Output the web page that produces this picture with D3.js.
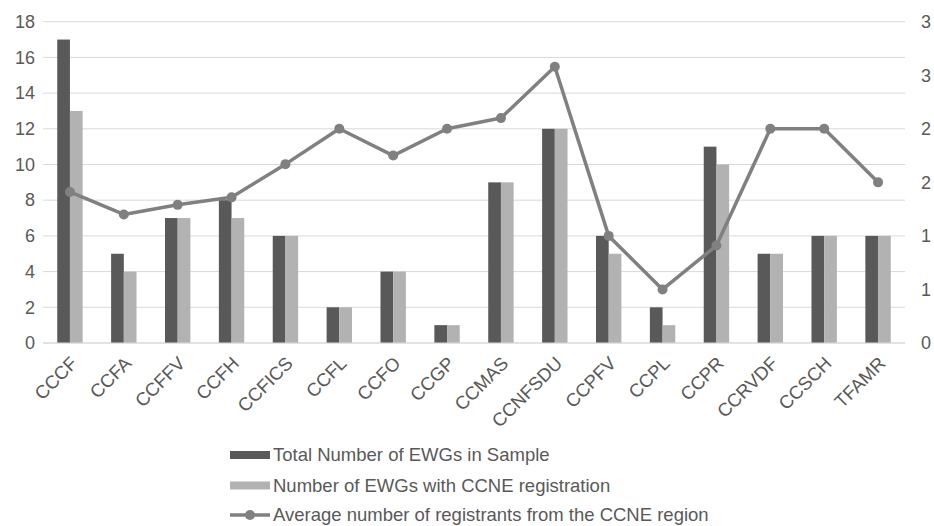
<!DOCTYPE html>
<html><head><meta charset="utf-8">
<script src="https://cdn.jsdelivr.net/npm/d3@7"></script>
<style>body{margin:0;background:#fff;} text{font-family:"Liberation Sans",Arial,sans-serif;fill:#595959;}</style>
</head><body>
<svg id="c" width="934" height="526"></svg>
<script>
const categories = ["CCCF","CCFA","CCFFV","CCFH","CCFICS","CCFL","CCFO","CCGP","CCMAS","CCNFSDU","CCPFV","CCPL","CCPR","CCRVDF","CCSCH","TFAMR"];
const totalEWGs = [17,5,7,8,6,2,4,1,9,12,6,2,11,5,6,6];
const ccneEWGs = [13,4,7,7,6,2,4,1,9,12,5,1,10,5,6,6];
const avgRegistrants = [1.41,1.2,1.29,1.36,1.67,2,1.75,2,2.1,2.58,1,0.5,0.91,2,2,1.5];
const leftTicks = [0,2,4,6,8,10,12,14,16,18];
const rightTicks = [0,0.5,1,1.5,2,2.5,3];
const rightTickLabels = ["0","1","1","2","2","3","3"];
const seriesNames = ["Total Number of EWGs in Sample","Number of EWGs with CCNE registration","Average number of registrants from the CCNE region"];

const svg = d3.select("#c");
const L = 43, R = 905, T = 21.7, B = 343;
const x = d3.scaleBand().domain(categories).range([L, R]);
const yL = d3.scaleLinear().domain([0,18]).range([B, T]);
const yR = d3.scaleLinear().domain([0,3]).range([B, T]);
const cDark = "#595959", cLight = "#b2b2b2", cLine = "#808080";

// gridlines
svg.append("g").selectAll("line").data(leftTicks).join("line")
  .attr("x1", L).attr("x2", R).attr("y1", d => yL(d)).attr("y2", d => yL(d))
  .attr("stroke", "#d9d9d9").attr("stroke-width", 1);

// left axis
const axL = svg.append("g").attr("transform", `translate(${L},0)`)
  .call(d3.axisLeft(yL).tickValues(leftTicks).tickSize(0).tickPadding(8));
axL.select(".domain").remove();
axL.selectAll("text").style("font-size","18px").attr("fill","#595959");

// right axis
const axR = svg.append("g").attr("transform", `translate(${R},0)`)
  .call(d3.axisRight(yR).tickValues(rightTicks).tickFormat((d,i) => rightTickLabels[i]).tickSize(0).tickPadding(16));
axR.select(".domain").remove();
axR.selectAll("text").style("font-size","18px").attr("fill","#595959");

// bars
const bw = 12.7;
svg.append("g").selectAll("rect").data(totalEWGs).join("rect")
  .attr("x", (d,i) => x(categories[i]) + x.bandwidth()/2 - bw)
  .attr("width", bw).attr("y", d => yL(d)).attr("height", d => B - yL(d)).attr("fill", cDark);
svg.append("g").selectAll("rect").data(ccneEWGs).join("rect")
  .attr("x", (d,i) => x(categories[i]) + x.bandwidth()/2)
  .attr("width", bw).attr("y", d => yL(d)).attr("height", d => B - yL(d)).attr("fill", cLight);

// bottom axis line
svg.append("line").attr("x1", L).attr("x2", R).attr("y1", B).attr("y2", B).attr("stroke", "#d9d9d9");

// line
const line = d3.line().x((d,i) => x(categories[i]) + x.bandwidth()/2).y(d => yR(d));
svg.append("path").datum(avgRegistrants).attr("d", line).attr("fill","none")
  .attr("stroke", cLine).attr("stroke-width", 3.5).attr("stroke-linejoin","round");
svg.append("g").selectAll("circle").data(avgRegistrants).join("circle")
  .attr("cx", (d,i) => x(categories[i]) + x.bandwidth()/2).attr("cy", d => yR(d))
  .attr("r", 5).attr("fill", cLine);

// category labels
svg.append("g").selectAll("text").data(categories).join("text")
  .attr("transform", d => `translate(${x(d) + x.bandwidth()/2 + 4},${B + 17}) rotate(-45)`)
  .attr("text-anchor","end").attr("dy","0.35em")
  .style("font-size","18.5px").text(d => d);

// legend
const lg = svg.append("g");
const lx = 230, ly = [455, 485.5, 515];
lg.append("rect").attr("x", lx).attr("y", ly[0]-4).attr("width", 40).attr("height", 8).attr("fill", cDark);
lg.append("rect").attr("x", lx).attr("y", ly[1]-4).attr("width", 40).attr("height", 8).attr("fill", cLight);
lg.append("line").attr("x1", lx).attr("x2", lx+40).attr("y1", ly[2]).attr("y2", ly[2]).attr("stroke", cLine).attr("stroke-width", 3.5);
lg.append("circle").attr("cx", lx+20).attr("cy", ly[2]).attr("r", 5).attr("fill", cLine);
lg.selectAll("text").data(seriesNames).join("text")
  .attr("x", lx+43).attr("y", (d,i) => ly[i]).attr("dy","0.35em")
  .style("font-size","18.5px").text(d => d);
</script>
</body></html>
